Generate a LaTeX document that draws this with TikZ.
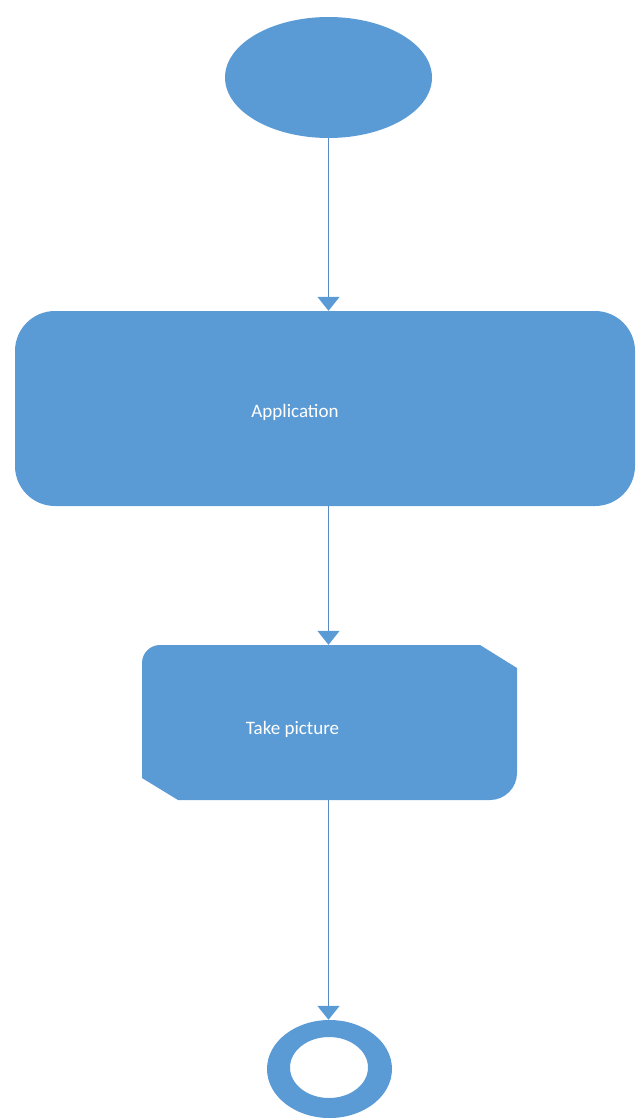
\documentclass[tikz,border=0pt]{standalone}
\usepackage{fontspec}
\setmainfont{Carlito}
\usetikzlibrary{shapes.geometric,arrows.meta}
\definecolor{flowblue}{HTML}{5B9BD5}
\definecolor{flowline}{HTML}{5A8AC4}
\tikzset{
  x=1pt, y=-1pt,
  shapefill/.style={fill=flowblue, draw=none},
  label text/.style={text=white, font=\fontsize{19}{22}\selectfont, inner sep=0pt},
  flow/.style={draw=flowline, line width=1.3pt,
    -{Triangle[width=22pt,length=14pt,color=flowblue]}},
}
\begin{document}
\begin{tikzpicture}
  \useasboundingbox (0,0) rectangle (636,1119);

  % initial state
  \node[ellipse, shapefill, minimum width=207pt, minimum height=121pt, inner sep=0pt]
    (start) at (328.5,77.5) {};

  % application activity
  \node[shapefill, rounded corners=40pt, minimum width=620pt, minimum height=195pt, inner sep=0pt]
    (app) at (325,408.5) {};
  \node[label text] (apptext) at (295,412) {Application};

  % take-picture activity: rounded top-left / bottom-right, cut top-right / bottom-left
  \fill[flowblue] (160,645) -- (480,645) -- (517,668) -- (517,773)
    arc[start angle=0, end angle=90, radius=27] -- (178,800) -- (142,778) -- (142,663)
    arc[start angle=180, end angle=270, radius=18] -- cycle;
  \node[minimum width=375pt, minimum height=155pt, inner sep=0pt] (take) at (329.5,722.5) {};
  \node[label text] (taketext) at (292.5,729) {Take picture};

  % final state
  \node[ellipse, minimum width=125pt, minimum height=98pt, inner sep=0pt] (end) at (329.5,1069) {};
  \fill[flowblue, even odd rule] (329.5,1069) ellipse[x radius=62.5, y radius=49]
    (329,1067.5) ellipse[x radius=39, y radius=30.5];

  % transitions
  \draw[flow] (start.south) -- (start.south |- app.north);
  \draw[flow] (start.south |- app.south) -- (start.south |- take.north);
  \draw[flow] (start.south |- take.south) -- (start.south |- end.north);
\end{tikzpicture}
\end{document}
